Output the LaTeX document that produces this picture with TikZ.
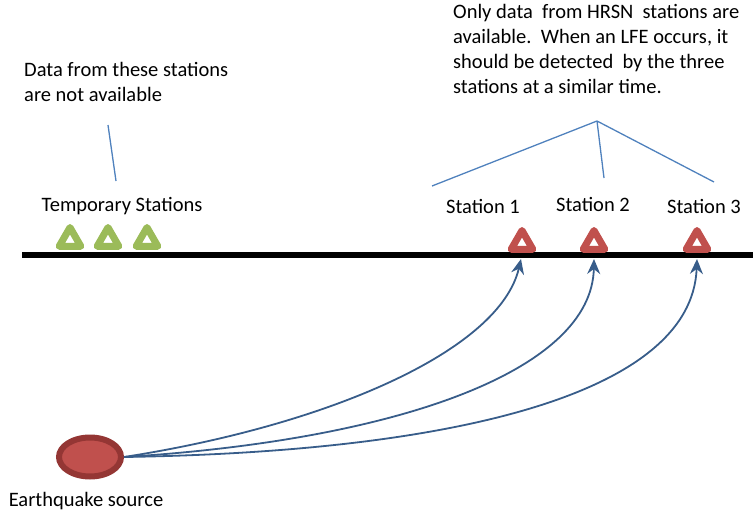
\documentclass[tikz,border=0pt]{standalone}
\usepackage{fontspec}
\setmainfont{Carlito}
\usetikzlibrary{arrows.meta,shapes,positioning}
\definecolor{verde}{RGB}{155, 187, 89}
\definecolor{rojo}{RGB}{192, 80, 77}
\definecolor{rojoOscuro}{RGB}{148, 54, 52}
\definecolor{azul}{RGB}{79, 129, 189}
\definecolor{azulOscuro}{RGB}{56, 93, 138}
\tikzstyle{station}=[regular polygon, regular polygon sides=3, draw,
                    fill=white, line width=7pt, line join=round,
                    minimum size=25pt, inner sep=0pt]
\tikzstyle{txt}=[inner sep=0pt, font=\fontsize{20.5}{25}\selectfont]
\tikzstyle{ray}=[-{Stealth[length=15pt,width=13pt,inset=5pt]}, azulOscuro,
                    line width=1.8pt]
\tikzstyle{pointer}=[azul, line width=1.3pt]

\begin{document}
\begin{tikzpicture}[x=1pt,y=-1pt]
    \useasboundingbox (0,0) rectangle (753,514);

    % ground
    \coordinate (g0) at (22,255);
    \coordinate (g1) at (753,255);
    \draw [line width=6pt] (g0) -- (g1);

    % temporary stations
    \foreach \i/\x in {1/70,2/108,3/147}
        \node (t\i) [station,draw=verde] at (\x,240) {};
    \node (temp) [txt] at (122,206) {Temporary Stations};

    % HRSN stations
    \foreach \i/\x in {1/522,2/594,3/697}
        \node (s\i) [station,draw=rojo] at (\x,243) {};
    \node (l1) [txt] at (483,206) {Station 1};
    \node (l2) [txt] at (593,204) {Station 2};
    \node (l3) [txt] at (704,206) {Station 3};

    % notes
    \node (noteA) [txt,align=left,anchor=north west] at (24,62)
        {Data from these stations\\are not available};
    \node (noteB) [txt,align=left,anchor=north west] at (453,4)
        {Only data\ \ from HRSN\ \ stations are\\available.\ \ When an LFE occurs, it\\should be detected\ \ by the three\\stations at a similar time.};

    \coordinate (a0) at (108,125);
    \coordinate (a1) at (116,181);
    \draw [pointer] (a0) -- (a1);

    \coordinate (apex) at (597,121);
    \coordinate (b1) at (432,186);
    \coordinate (b2) at (604,178);
    \coordinate (b3) at (714,182);
    \foreach \j in {b1,b2,b3}
        \draw [pointer] (apex) -- (\j);

    % source
    \node (src) [ellipse, draw=rojoOscuro, fill=rojo, line width=6pt,
                 minimum width=62pt, minimum height=39pt] at (90,457) {};
    \node (srcl) [txt] at (86,501) {Earthquake source};

    \coordinate (r1) at (521,259);
    \coordinate (r2) at (594,259);
    \coordinate (r3) at (697,259);
    \draw [ray] (src.east) .. controls (330,425) and (500,350) .. (r1);
    \draw [ray] (src.east) .. controls (400,440) and (592,370) .. (r2);
    \draw [ray] (src.east) .. controls (450,452) and (692,395) .. (r3);

\end{tikzpicture}
\end{document}
